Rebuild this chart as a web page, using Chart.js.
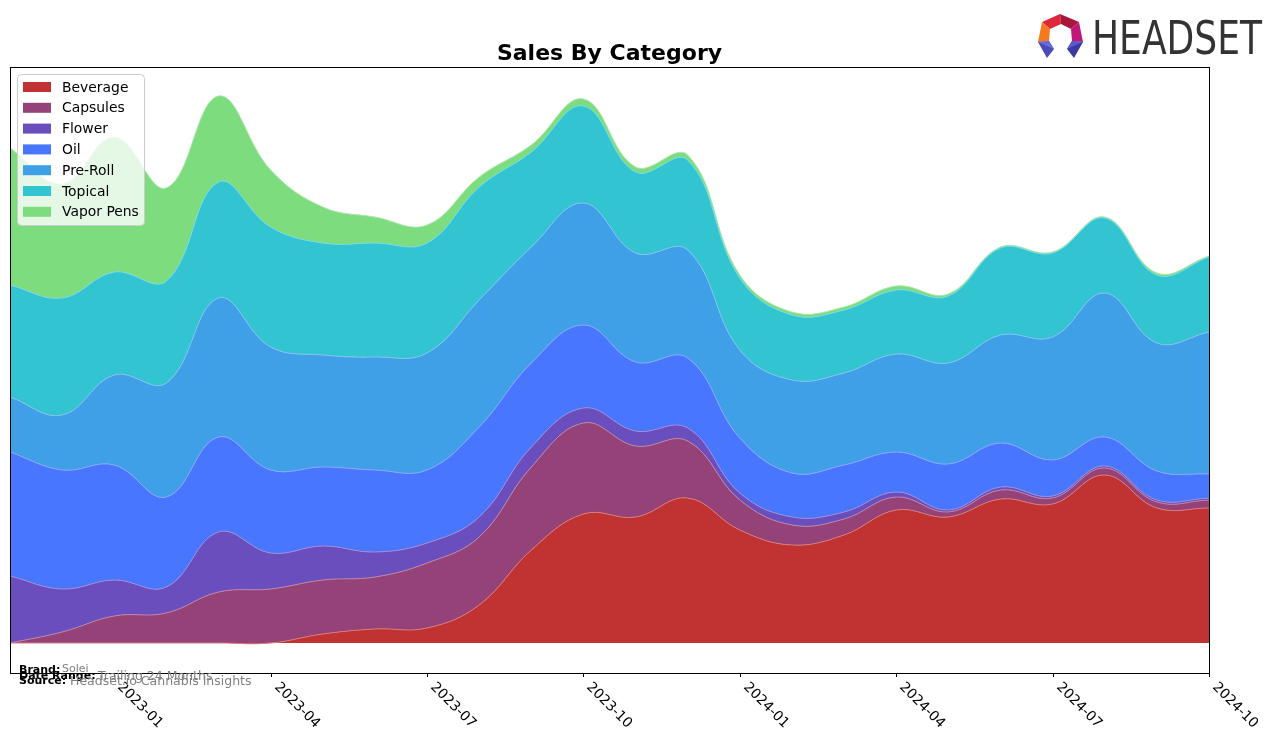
<!DOCTYPE html>
<html>
<head>
<meta charset="utf-8">
<script src="https://cdn.jsdelivr.net/npm/chart.js@4.4.1/dist/chart.umd.min.js"></script>
<style>
  html, body { margin: 0; padding: 0; background: #ffffff; }
  #wrap { width: 1276px; height: 743px; position: relative; }
</style>
</head>
<body>
<div id="wrap"><canvas id="c"></canvas></div>
<script>
// ---- data (monthly, 2022-11 .. 2024-10) ----
const months = ['2022-11','2022-12','2023-01','2023-02','2023-03','2023-04','2023-05','2023-06',
  '2023-07','2023-08','2023-09','2023-10','2023-11','2023-12','2024-01','2024-02','2024-03',
  '2024-04','2024-05','2024-06','2024-07','2024-08','2024-09','2024-10'];
const tickLabels = ['2023-01','2023-04','2023-07','2023-10','2024-01','2024-04','2024-07','2024-10'];
const categories = ['Beverage','Capsules','Flower','Oil','Pre-Roll','Topical','Vapor Pens'];

const beverage  = [0,0,0,0,0,0,9,14,15,38,93,129,126,145,113,98,108,133,126,144,139,168,135,135];
const capsules  = [0,11,27,30,51,54,54,52,65,68,83,91,71,57,30,20,16,13,5,9,6,7,6,8];
const flower    = [67,43,36,26,60,36,34,25,20,20,20,15,15,13,7,8,7,5,2,3,2,2,2,2];
const oil       = [124,119,115,90,95,83,79,82,73,90,84,83,69,70,55,44,47,40,46,44,36,29,29,24];
const preRoll   = [55,55,90,114,139,123,112,113,117,127,116,122,109,108,88,93,92,98,101,108,123,144,128,142];
const topical   = [112,117,103,102,116,120,112,114,110,113,95,97,81,90,72,65,63,64,67,87,84,75,68,75];
const vaporPens = [137,114,135,93,86,57,36,26,18,10,7,7,5,5,3,3,3,4,2,1,1,1,2,1];

const seriesValues = [beverage, capsules, flower, oil, preRoll, topical, vaporPens];
const colors = ['#c13232','#954278','#6a4ebe','#4876ff','#3fa0e8','#33c4d2','#7cdc7e'];

function tint(hex, f) {
  const n = parseInt(hex.slice(1), 16);
  const r = (n >> 16) & 255, g = (n >> 8) & 255, b = n & 255;
  const m = v => Math.round(v + (255 - v) * f);
  return `rgb(${m(r)},${m(g)},${m(b)})`;
}

const datasets = categories.map((name, k) => ({
  label: name,
  data: seriesValues[k].map((v, i) => ({ x: i, y: v })),
  backgroundColor: colors[k],
  borderColor: tint(colors[k], 0.35),
  borderWidth: 1,
  pointRadius: 0,
  tension: 0.4,
  fill: k === 0 ? 'origin' : '-1'
}));

const FONT = '"DejaVu Sans", sans-serif';

const decor = {
  id: 'decor',
  afterDraw(chart) {
    const ctx = chart.ctx;
    const a = chart.chartArea;
    const xs = chart.scales.x;
    ctx.save();

    // frame
    ctx.strokeStyle = '#000';
    ctx.lineWidth = 1;
    ctx.strokeRect(Math.round(a.left) + 0.5, Math.round(a.top) + 0.5,
                   Math.round(a.right - a.left), Math.round(a.bottom - a.top));

    // ticks + rotated labels
    ctx.fillStyle = '#000';
    ctx.font = '13.9px ' + FONT;
    tickLabels.forEach(lbl => {
      const idx = months.indexOf(lbl);
      const x = Math.round(xs.getPixelForValue(idx)) + 0.5;
      ctx.beginPath();
      ctx.moveTo(x, a.bottom);
      ctx.lineTo(x, a.bottom + 4);
      ctx.stroke();
      ctx.save();
      ctx.translate(x + 10, a.bottom + 7);
      ctx.rotate(Math.PI / 4);
      ctx.textAlign = 'left';
      ctx.textBaseline = 'top';
      ctx.fillText(lbl, 0, 0);
      ctx.restore();
    });

    // title
    ctx.font = 'bold 22px ' + FONT;
    ctx.textAlign = 'center';
    ctx.textBaseline = 'alphabetic';
    ctx.fillText('Sales By Category', (a.left + a.right) / 2, 60);

    // legend
    const lx = 17, ly = 74, lw = 127, lh = 151;
    ctx.beginPath();
    ctx.roundRect(lx + 0.5, ly + 0.5, lw, lh, 4);
    ctx.fillStyle = 'rgba(255,255,255,0.8)';
    ctx.fill();
    ctx.strokeStyle = '#cccccc';
    ctx.stroke();
    ctx.font = '13.9px ' + FONT;
    ctx.textAlign = 'left';
    ctx.textBaseline = 'middle';
    categories.forEach((name, k) => {
      const cy = 87 + k * 20.8;
      ctx.fillStyle = colors[k];
      ctx.fillRect(23, cy - 5, 28, 10);
      ctx.fillStyle = '#000';
      ctx.fillText(name, 62, cy + 1);
    });

    // footer
    ctx.textBaseline = 'alphabetic';
    ctx.fillStyle = '#000';
    ctx.font = 'bold 11px ' + FONT;
    ctx.fillText('Brand:', 19, 673);
    ctx.fillText('Date Range:', 19, 679);
    ctx.fillText('Source:', 19, 684);
    ctx.fillStyle = '#808080';
    ctx.font = '11px ' + FONT;
    ctx.fillText('Solei', 62, 672);
    ctx.font = '12.5px ' + FONT;
    ctx.fillText('Trailing 24 Months', 98, 680);
    ctx.fillText('Headset.io Cannabis Insights', 70, 685);

    // logo icon
    const poly = (pts, c) => {
      ctx.beginPath();
      ctx.moveTo(pts[0][0], pts[0][1]);
      for (let i = 1; i < pts.length; i++) ctx.lineTo(pts[i][0], pts[i][1]);
      ctx.closePath();
      ctx.fillStyle = c;
      ctx.fill();
    };
    poly([[1042,22],[1060,14],[1061,24],[1050,29]], '#e0283c');
    poly([[1060,14],[1079,22],[1071,29],[1061,24]], '#a8183c');
    poly([[1042,22],[1050,29],[1049,41],[1038,42]], '#f47a20');
    poly([[1079,22],[1083,42],[1072,41],[1071,29]], '#c0187a');
    poly([[1038,42],[1049,41],[1054,49],[1047,58]], '#4a4ab8');
    poly([[1083,42],[1072,41],[1067,49],[1074,58]], '#3a3aa0');
    poly([[1038,42],[1049,41],[1054,49]], '#6a6ae0');
    poly([[1083,42],[1072,41],[1067,49]], '#5a5ad0');

    // logo text
    ctx.fillStyle = '#333333';
    ctx.font = '47px ' + FONT;
    ctx.textAlign = 'left';
    ctx.textBaseline = 'alphabetic';
    const w = ctx.measureText('HEADSET').width;
    ctx.save();
    ctx.translate(1092, 54);
    ctx.scale(170 / w, 1);
    ctx.fillText('HEADSET', 0, 0);
    ctx.restore();

    ctx.restore();
  }
};

new Chart(document.getElementById('c'), {
  type: 'line',
  data: { datasets },
  options: {
    responsive: true,
    maintainAspectRatio: false,
    animation: false,
    layout: { padding: { left: 10, top: 67, right: 67, bottom: 70 } },
    plugins: { legend: { display: false }, title: { display: false }, tooltip: { enabled: false } },
    scales: {
      x: { type: 'linear', min: 0, max: months.length - 1, display: false },
      y: { stacked: true, min: -30, max: 576, display: false }
    },
    elements: { line: { cubicInterpolationMode: 'default' } }
  },
  plugins: [decor]
});
</script>
</body>
</html>
